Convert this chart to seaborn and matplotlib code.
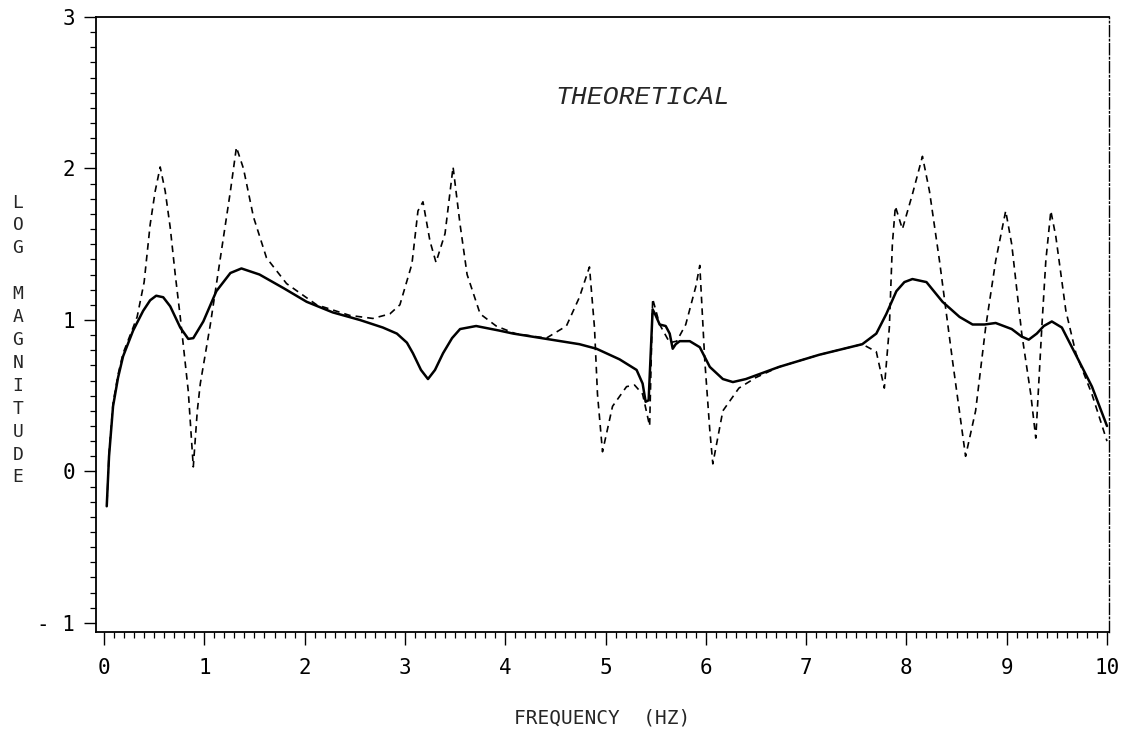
import numpy as np
import pandas as pd
import matplotlib
matplotlib.use("Agg")
import matplotlib.pyplot as plt
import seaborn as sns
from matplotlib.ticker import MultipleLocator

# ---- data ----
solid_x = [0.027, 0.05, 0.09, 0.14, 0.19, 0.29, 0.39, 0.46, 0.52, 0.59, 0.66, 0.76, 0.84, 0.89,
           0.99, 1.12, 1.26, 1.37, 1.55, 1.79, 2.02, 2.28, 2.55, 2.78, 2.92, 3.02, 3.08, 3.16, 3.23,
           3.30, 3.38, 3.47, 3.55, 3.71, 3.94, 4.08, 4.41, 4.74, 4.91, 5.14, 5.31, 5.37, 5.40,
           5.43, 5.47, 5.50, 5.54, 5.60, 5.64, 5.67, 5.70, 5.74, 5.84, 5.94, 6.04, 6.17, 6.27,
           6.40, 6.73, 7.13, 7.56, 7.70, 7.80, 7.90, 7.98, 8.06, 8.20, 8.36, 8.53, 8.66, 8.78,
           8.89, 9.05, 9.15, 9.22, 9.30, 9.37, 9.45, 9.55, 9.72, 9.85, 10.0]
solid_y = [-0.23, 0.10, 0.43, 0.62, 0.76, 0.93, 1.06, 1.13, 1.16, 1.15, 1.09, 0.95, 0.875, 0.88,
           0.99, 1.19, 1.31, 1.34, 1.30, 1.21, 1.12, 1.05, 1.00, 0.95, 0.91, 0.85, 0.78, 0.67, 0.61,
           0.67, 0.78, 0.88, 0.94, 0.96, 0.93, 0.91, 0.875, 0.84, 0.81, 0.74, 0.67, 0.58, 0.46,
           0.47, 1.07, 1.03, 0.97, 0.96, 0.91, 0.81, 0.84, 0.86, 0.86, 0.82, 0.69, 0.61, 0.59,
           0.61, 0.69, 0.77, 0.84, 0.91, 1.04, 1.19, 1.25, 1.27, 1.25, 1.12, 1.02, 0.97, 0.97,
           0.98, 0.94, 0.89, 0.87, 0.91, 0.96, 0.99, 0.95, 0.73, 0.56, 0.30]

dash_x = [0.03, 0.05, 0.09, 0.14, 0.19, 0.29, 0.33, 0.40, 0.46, 0.51, 0.56, 0.61, 0.66, 0.71,
          0.76, 0.84, 0.89, 0.93, 0.96, 1.06, 1.16, 1.26, 1.32, 1.39, 1.49, 1.62, 1.82, 2.12,
          2.45, 2.68, 2.85, 2.95, 3.07, 3.13, 3.18, 3.25, 3.31, 3.40, 3.48, 3.55, 3.62, 3.75,
          3.91, 4.10, 4.41, 4.61, 4.74, 4.84, 4.89, 4.92, 4.97, 5.07, 5.21, 5.29, 5.37, 5.44,
          5.47, 5.54, 5.64, 5.71, 5.80, 5.90, 5.94, 5.99, 6.04, 6.07, 6.17, 6.33, 6.50, 6.73,
          7.13, 7.56, 7.70, 7.78, 7.83, 7.86, 7.89, 7.96, 8.06, 8.16, 8.23, 8.33, 8.46, 8.59,
          8.69, 8.79, 8.89, 8.99, 9.05, 9.15, 9.24, 9.29, 9.35, 9.39, 9.44, 9.49, 9.59, 9.69,
          9.85, 10.0]
dash_y = [-0.20, 0.12, 0.45, 0.64, 0.78, 0.95, 1.02, 1.25, 1.63, 1.85, 2.01, 1.85, 1.61, 1.30,
          1.02, 0.53, 0.03, 0.40, 0.58, 0.97, 1.41, 1.85, 2.14, 2.00, 1.68, 1.41, 1.24, 1.10,
          1.03, 1.01, 1.04, 1.10, 1.37, 1.72, 1.78, 1.52, 1.38, 1.57, 2.01, 1.63, 1.30, 1.04,
          0.96, 0.91, 0.88, 0.96, 1.15, 1.35, 0.95, 0.51, 0.13, 0.43, 0.56, 0.57, 0.51, 0.30,
          1.14, 0.97, 0.85, 0.86, 0.97, 1.22, 1.36, 0.73, 0.27, 0.05, 0.40, 0.55, 0.62, 0.69,
          0.77, 0.84, 0.79, 0.55, 0.95, 1.50, 1.75, 1.60, 1.83, 2.08, 1.85, 1.39, 0.73, 0.10,
          0.40, 0.95, 1.39, 1.72, 1.50, 0.91, 0.51, 0.22, 0.95, 1.39, 1.72, 1.55, 1.06, 0.78,
          0.51, 0.20]

x_ticks = list(range(0, 11))
x_tick_labels = [str(v) for v in x_ticks]
y_ticks = [-1, 0, 1, 2, 3]
y_tick_labels = ["- 1", "0", "1", "2", "3"]
title_text = "THEORETICAL"
x_label = "FREQUENCY  (HZ)"
y_label = "LOG MAGNITUDE"

solid_df = pd.DataFrame({"freq": solid_x, "logmag": solid_y})
dash_df = pd.DataFrame({"freq": dash_x, "logmag": dash_y})

sns.set_style("white")
plt.rcParams["font.family"] = ["DejaVu Sans Mono", "DejaVu Sans"]

fig = plt.figure(figsize=(11.23, 7.40), dpi=100)
ax = fig.add_axes([96 / 1123, 1 - 632 / 740, (1109 - 96) / 1123, (632 - 17) / 740])

sns.lineplot(data=dash_df, x="freq", y="logmag", ax=ax, sort=False, estimator=None,
             color="black", linewidth=1.2, linestyle=(0, (4, 3)))
sns.lineplot(data=solid_df, x="freq", y="logmag", ax=ax, sort=False, estimator=None,
             color="black", linewidth=1.8)

ax.set_xlim(-0.08, 10.02)
ax.set_ylim(-1.06, 3.0)

ax.set_xticks(x_ticks)
ax.set_xticklabels(x_tick_labels)
ax.set_yticks(y_ticks)
ax.set_yticklabels(y_tick_labels)
ax.xaxis.set_minor_locator(MultipleLocator(0.1))
ax.yaxis.set_minor_locator(MultipleLocator(0.1))
ax.tick_params(axis="both", which="both", bottom=True, left=True, top=False, right=False)
ax.tick_params(axis="both", which="major", direction="out", length=9, width=1.0,
               color="black", labelsize=15, labelcolor="black")
ax.tick_params(axis="both", which="minor", direction="out", length=4, width=0.9, color="black")
ax.tick_params(axis="x", which="major", pad=10)
ax.tick_params(axis="y", which="major", pad=6)

for side in ["left", "bottom", "top"]:
    ax.spines[side].set_visible(True)
    ax.spines[side].set_color("black")
    ax.spines[side].set_linewidth(1.3)
ax.spines["right"].set_color("black")
ax.spines["right"].set_linewidth(1.0)
ax.spines["right"].set_linestyle((0, (8, 2, 1, 2)))

ax.set_xlabel(x_label, fontsize=14, labelpad=22)
ax.set_ylabel("")

ax.text(5.37, 2.47, title_text, fontsize=19, fontstyle="italic",
        family=["Liberation Mono", "DejaVu Sans Mono"], ha="center", va="center")

fig.text(18 / 1123, 1 - 340 / 740, "\n".join(list(y_label)), fontsize=13,
         ha="center", va="center", linespacing=1.35)

fig.savefig("out.png", dpi=100, facecolor="white")
